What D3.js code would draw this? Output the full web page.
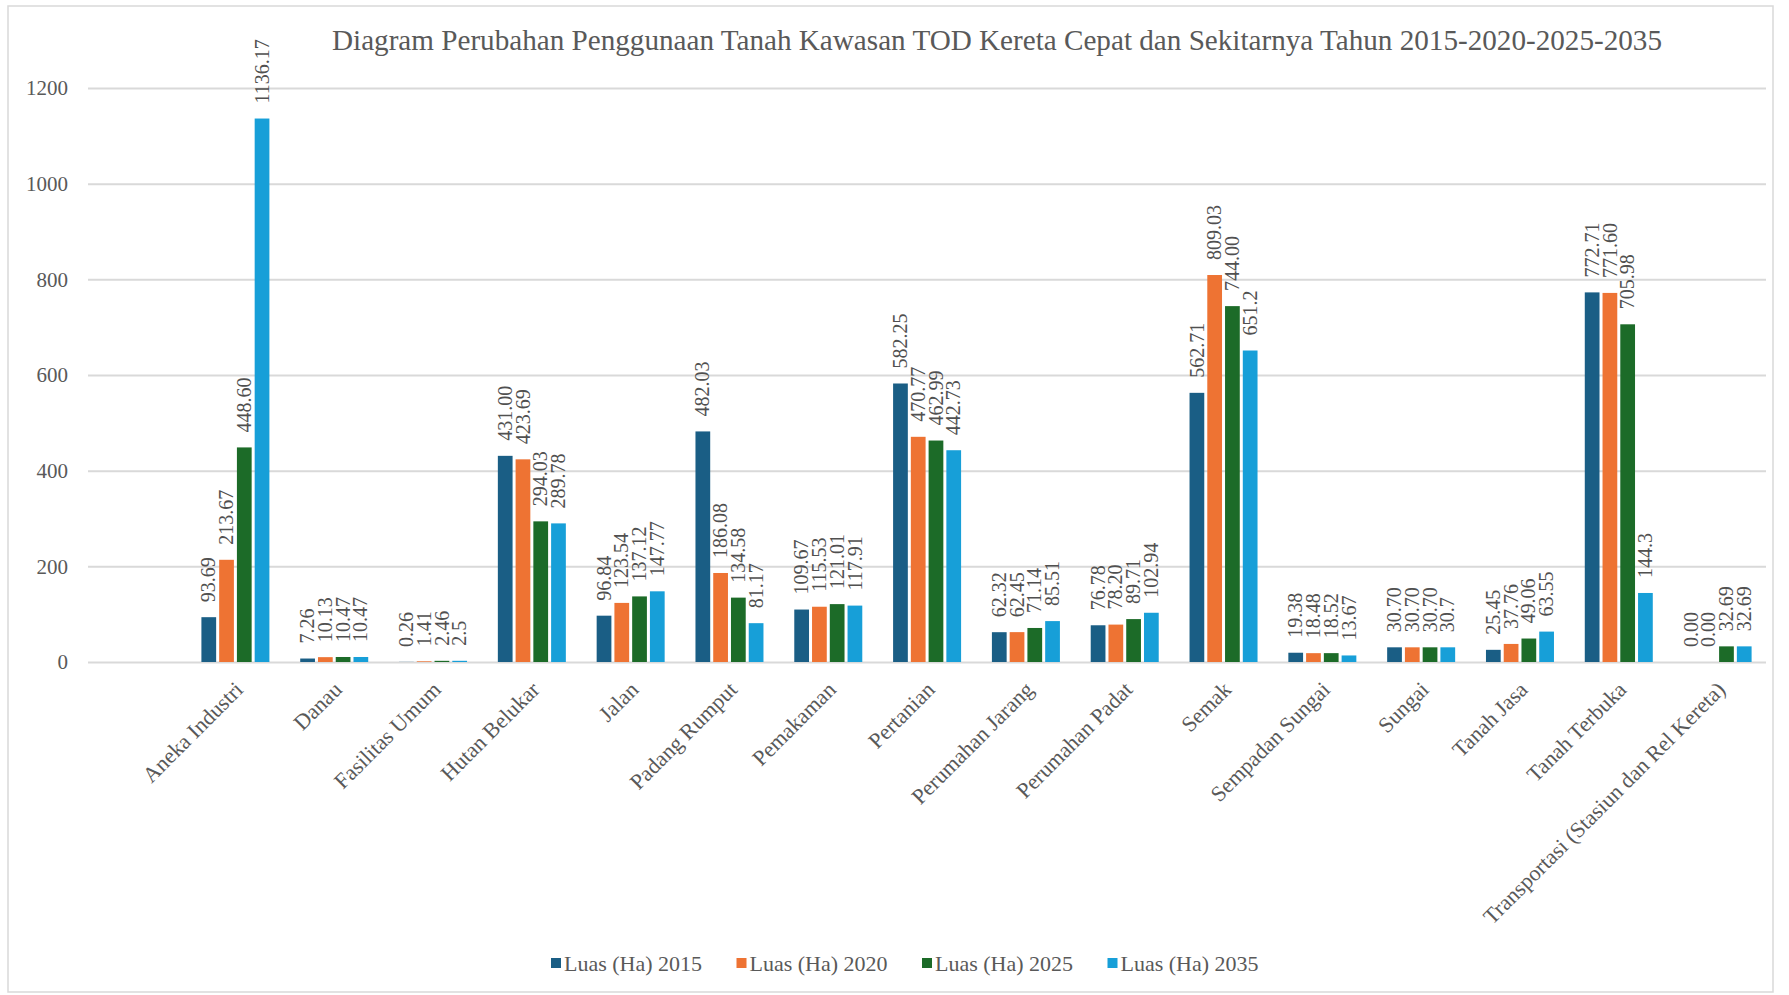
<!DOCTYPE html>
<html>
<head>
<meta charset="utf-8">
<script src="https://cdn.jsdelivr.net/npm/d3@7"></script>
<style>
  html, body { margin: 0; padding: 0; background: #ffffff; }
  svg { display: block; }
  text { font-family: "Liberation Serif", "Times New Roman", serif; }
</style>
</head>
<body>
<div id="chart"></div>
<script>
const titleText = "Diagram Perubahan Penggunaan Tanah Kawasan TOD Kereta Cepat dan Sekitarnya Tahun 2015-2020-2025-2035";

const categories = [
  "Aneka Industri", "Danau", "Fasilitas Umum", "Hutan Belukar", "Jalan",
  "Padang Rumput", "Pemakaman", "Pertanian", "Perumahan Jarang", "Perumahan Padat",
  "Semak", "Sempadan Sungai", "Sungai", "Tanah Jasa", "Tanah Terbuka",
  "Transportasi (Stasiun dan Rel Kereta)"
];

const seriesNames = ["Luas (Ha) 2015", "Luas (Ha) 2020", "Luas (Ha) 2025", "Luas (Ha) 2035"];

// values as displayed in the data labels
const luas2015 = ["93.69", "7.26", "0.26", "431.00", "96.84", "482.03", "109.67", "582.25", "62.32", "76.78", "562.71", "19.38", "30.70", "25.45", "772.71", "0.00"];
const luas2020 = ["213.67", "10.13", "1.41", "423.69", "123.54", "186.08", "115.53", "470.77", "62.45", "78.20", "809.03", "18.48", "30.70", "37.76", "771.60", "0.00"];
const luas2025 = ["448.60", "10.47", "2.46", "294.03", "137.12", "134.58", "121.01", "462.99", "71.14", "89.71", "744.00", "18.52", "30.70", "49.06", "705.98", "32.69"];
const luas2035 = ["1136.17", "10.47", "2.5", "289.78", "147.77", "81.17", "117.91", "442.73", "85.51", "102.94", "651.2", "13.67", "30.7", "63.55", "144.3", "32.69"];

const yTicks = [0, 200, 400, 600, 800, 1000, 1200];

const seriesColors = ["#1a5e85", "#ee7333", "#1c6b28", "#179fd8"];

const seriesData = [luas2015, luas2020, luas2025, luas2035];

const W = 1789, H = 995;
const svg = d3.select("#chart").append("svg").attr("width", W).attr("height", H);

// chart frame
svg.append("rect").attr("x", 8).attr("y", 6).attr("width", 1765).attr("height", 986)
  .attr("fill", "#ffffff").attr("stroke", "#d9d9d9").attr("stroke-width", 1.5);

const gridLeft = 88, gridRight = 1766;

const y = d3.scaleLinear().domain([0, 1200]).range([662, 88]);
const x = d3.scaleBand().domain(categories).range([186, 1767]).paddingInner(0).paddingOuter(0);
const xs = d3.scaleBand().domain(seriesNames).range([-34, 34]).paddingInner(0.17).paddingOuter(0);

// title
svg.append("text")
  .attr("x", 997).attr("y", 50)
  .attr("text-anchor", "middle")
  .attr("font-size", 30)
  .attr("fill", "#595959")
  .attr("textLength", 1330)
  .attr("lengthAdjust", "spacingAndGlyphs")
  .text(titleText);

// y axis with gridlines
const yAxis = svg.append("g")
  .attr("transform", `translate(${gridLeft},0)`)
  .call(d3.axisLeft(y).tickValues(yTicks).tickSize(-(gridRight - gridLeft)).tickPadding(20).tickFormat(d3.format("d")));
yAxis.select(".domain").remove();
yAxis.selectAll(".tick line").attr("stroke", "#d9d9d9").attr("stroke-width", 2);
yAxis.selectAll(".tick text")
  .attr("font-size", 21).attr("fill", "#595959");

// bars
const groups = svg.append("g").selectAll("g")
  .data(categories)
  .join("g")
  .attr("transform", d => `translate(${x(d) + x.bandwidth() / 2},0)`);

groups.each(function(cat, ci) {
  const g = d3.select(this);
  const rows = seriesNames.map((s, si) => ({ s, si, label: seriesData[si][ci], v: parseFloat(seriesData[si][ci]) }));
  g.selectAll("rect").data(rows).join("rect")
    .attr("x", d => xs(d.s))
    .attr("width", xs.bandwidth())
    .attr("y", d => y(d.v))
    .attr("height", d => y(0) - y(d.v))
    .attr("fill", d => seriesColors[d.si]);
  g.selectAll("text.val").data(rows).join("text")
    .attr("class", "val")
    .attr("transform", d => `translate(${xs(d.s) + xs.bandwidth() / 2},${y(d.v) - 15}) rotate(-90)`)
    .attr("dy", "0.33em")
    .attr("text-anchor", "start")
    .attr("font-size", 20)
    .attr("fill", "#505050")
    .text(d => d.label);
});

// x axis labels
const xAxis = svg.append("g")
  .attr("transform", `translate(0,${y(0)})`)
  .call(d3.axisBottom(x).tickSize(0).tickPadding(0));
xAxis.select(".domain").remove();
xAxis.selectAll(".tick text")
  .attr("font-size", 22)
  .attr("fill", "#595959")
  .attr("text-anchor", "end")
  .attr("x", 0).attr("y", 0).attr("dy", 0)
  .attr("transform", "translate(9,29) rotate(-45)");

// legend
const legend = svg.append("g").selectAll("g")
  .data(seriesNames)
  .join("g")
  .attr("transform", (d, i) => `translate(${551 + i * 185.5},963)`);
legend.append("rect")
  .attr("x", 0).attr("y", -5).attr("width", 10).attr("height", 10)
  .attr("fill", (d, i) => seriesColors[i]);
legend.append("text")
  .attr("x", 13).attr("y", 0).attr("dy", "0.35em")
  .attr("font-size", 22).attr("fill", "#595959")
  .text(d => d);
</script>
</body>
</html>
